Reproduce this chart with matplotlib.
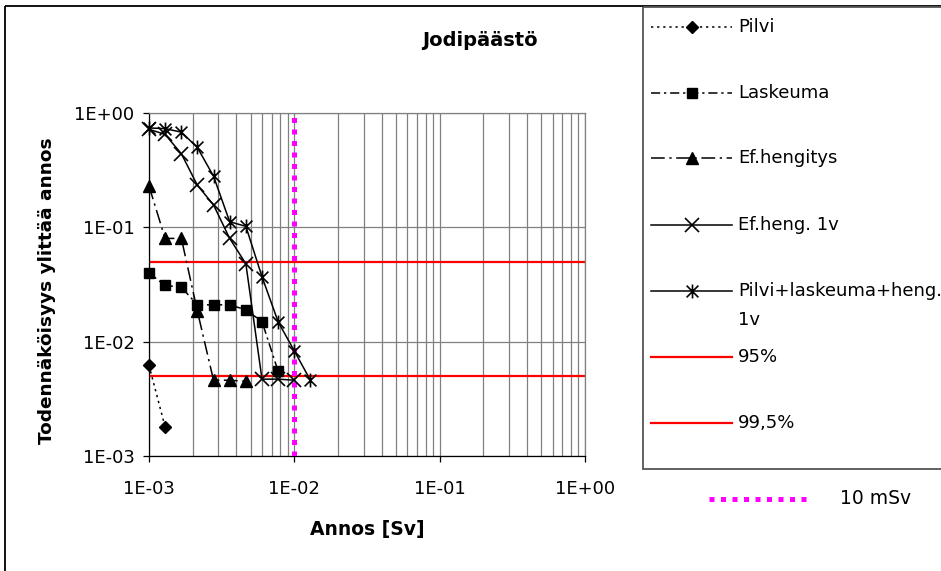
import matplotlib
matplotlib.use("Agg")
import matplotlib.pyplot as plt
from matplotlib.path import Path
from matplotlib.patches import Rectangle
from matplotlib.ticker import NullFormatter, NullLocator, LogLocator

plt.rcParams['font.family'] = ['DejaVu Sans']

# ---------------- data ----------------
dose = [1.00e-3, 1.29e-3, 1.67e-3, 2.15e-3, 2.78e-3, 3.59e-3, 4.64e-3,
        5.99e-3, 7.74e-3, 1.00e-2, 1.29e-2]
pilvi = [0.0062, 0.0018]
laskeuma = [0.040, 0.031, 0.030, 0.021, 0.021, 0.021, 0.019, 0.015, 0.0055]
hengitys = [0.23, 0.080, 0.080, 0.0186, 0.0046, 0.0046, 0.0045]
heng_1v = [0.72, 0.65, 0.44, 0.234, 0.157, 0.080, 0.048, 0.0047, 0.0047, 0.0046]
yhteensa = [0.74, 0.73, 0.68, 0.50, 0.28, 0.112, 0.102, 0.037, 0.0149, 0.0083, 0.0046]

series_labels = ['Pilvi', 'Laskeuma', 'Ef.hengitys', 'Ef.heng. 1v',
                 'Pilvi+laskeuma+heng.']
series_label_extra = '1v'
threshold_values = [0.05, 0.005]
threshold_labels = ['95%', '99,5%']
limit_dose = 0.01
limit_label = '10 mSv'
x_ticks = [1e-3, 1e-2, 1e-1, 1e0]
x_tick_labels = ['1E-03', '1E-02', '1E-01', '1E+00']
y_ticks = [1e-3, 1e-2, 1e-1, 1e0]
y_tick_labels = ['1E-03', '1E-02', '1E-01', '1E+00']
title = 'Jodipäästö'
xlabel = 'Annos [Sv]'
ylabel = 'Todennäköisyys ylittää annos'

# ---------------- styles ----------------
asterisk = Path([(-0.85, -0.85), (0.85, 0.85), (-0.85, 0.85), (0.85, -0.85),
                 (0, -1), (0, 1)],
                [Path.MOVETO, Path.LINETO, Path.MOVETO, Path.LINETO,
                 Path.MOVETO, Path.LINETO])

styles = [
    dict(ls=(0, (1.5, 2.5)), marker='D', ms=6.5),
    dict(ls=(0, (6, 2.5, 1.5, 2.5)), marker='s', ms=7.5),
    dict(ls=(0, (9, 3, 1.5, 3)), marker='^', ms=9),
    dict(ls='-', marker='x', ms=9.5, mew=1.2),
    dict(ls='-', marker=asterisk, ms=10, mew=1.2),
]
series_y = [pilvi, laskeuma, hengitys, heng_1v, yhteensa]

W, H = 941, 571
fig = plt.figure(figsize=(W / 100, H / 100), dpi=100)
fig.patch.set_facecolor('white')

ax = fig.add_axes([149 / W, 1 - 456 / H, (585 - 149) / W, (456 - 113) / H])
ax.set_xscale('log')
ax.set_yscale('log')
ax.set_xlim(1e-3, 1e0)
ax.set_ylim(1e-3, 1e0)

grid_c = '#808080'
ax.xaxis.set_minor_locator(LogLocator(base=10, subs=range(2, 10)))
ax.xaxis.set_minor_formatter(NullFormatter())
ax.yaxis.set_minor_locator(NullLocator())
ax.set_xticks(x_ticks, labels=x_tick_labels)
ax.set_yticks(y_ticks, labels=y_tick_labels)
ax.grid(True, axis='x', which='both', color=grid_c, lw=0.9)
ax.grid(True, axis='y', which='major', color=grid_c, lw=0.9)
ax.set_axisbelow(True)
ax.tick_params(axis='both', which='minor', length=0)
ax.tick_params(axis='y', which='major', length=4.5, width=0.9, direction='out',
               pad=6, labelsize=13)
ax.tick_params(axis='x', which='major', length=4, width=0.9, direction='out',
               pad=13, labelsize=13)
for side in ['top', 'right']:
    ax.spines[side].set_color(grid_c)
    ax.spines[side].set_linewidth(0.9)
for side in ['left', 'bottom']:
    ax.spines[side].set_color('#000000')
    ax.spines[side].set_linewidth(0.9)

for v in threshold_values:
    ax.axhline(v, color='#FF0000', lw=1.6, zorder=2)
ax.axvline(limit_dose, color='#FF00FF', lw=3.6, ls=(0, (1, 1.3)),
           dash_capstyle='butt', zorder=3)

for yv, st in zip(series_y, styles):
    ax.plot(dose[:len(yv)], yv, color='black', lw=1.1, mfc='black',
            mec='black', clip_on=False, zorder=4, **st)

# ---------------- overlay (borders, legend, texts) ----------------
ov = fig.add_axes([0, 0, 1, 1], facecolor='none')
ov.set_xlim(0, W)
ov.set_ylim(H, 0)
ov.axis('off')

ov.add_patch(Rectangle((5, 6), W + 10, H + 10, fill=False, ec='black',
                       lw=1.3, clip_on=False))
ov.add_patch(Rectangle((643, 7), 330, 462, fill=False, ec='#555555',
                       lw=1.3, clip_on=False))

leg_y = [27, 93, 158, 225, 291]
for yy, st, lab in zip(leg_y, styles, series_labels):
    ls = st['ls']
    mk = {k: v for k, v in st.items() if k != 'ls'}
    ov.plot([651, 732], [yy, yy], color='black', lw=1.1, ls=ls)
    ov.plot([692], [yy], color='black', mfc='black', mec='black', ls='none', **mk)
    ov.text(738, yy, lab, fontsize=13, va='center', ha='left')
ov.text(738, 320, series_label_extra, fontsize=13, va='center', ha='left')

for yy, lab in zip([357, 423], threshold_labels):
    ov.plot([651, 732], [yy, yy], color='#FF0000', lw=1.6)
    ov.text(738, yy, lab, fontsize=13, va='center', ha='left')

ov.plot([709, 810], [499, 499], color='#FF00FF', lw=3.6, ls=(0, (1, 1.3)),
        dash_capstyle='butt')
ov.text(840, 499, limit_label, fontsize=13.5, va='center', ha='left')

ov.text(480, 41, title, fontsize=14, fontweight='bold', ha='center', va='center')
ov.text(367, 530, xlabel, fontsize=13.5, fontweight='bold', ha='center', va='center')
ov.text(47, 291, ylabel, fontsize=13.3, fontweight='bold', ha='center',
        va='center', rotation=90)

fig.savefig('out.png', dpi=100)
